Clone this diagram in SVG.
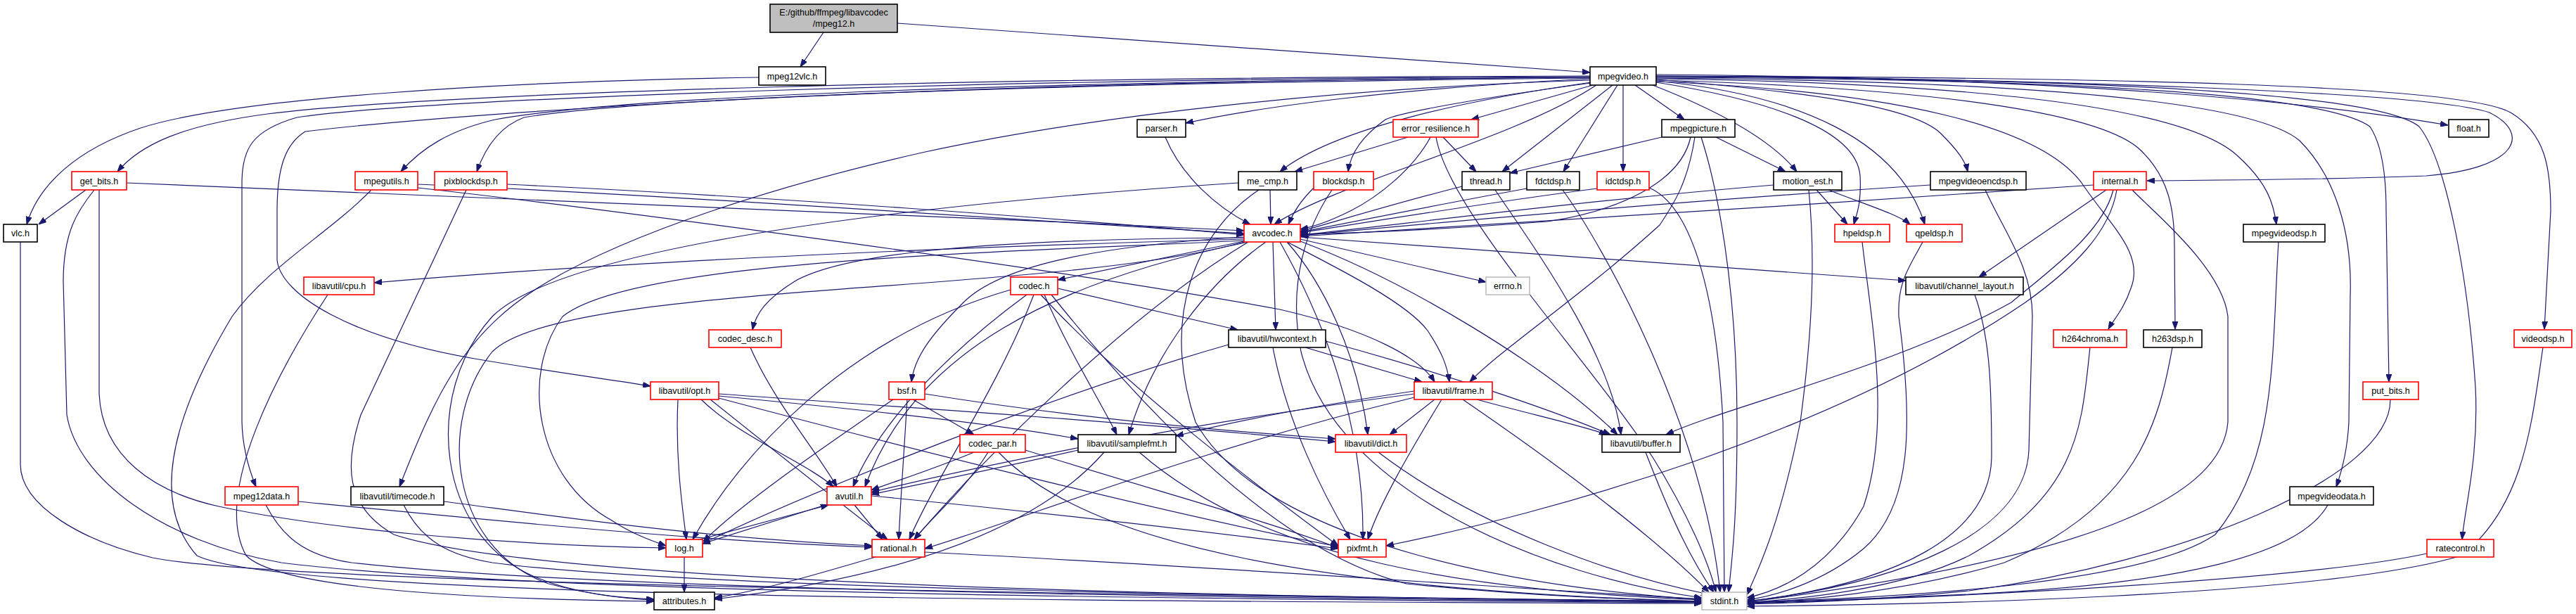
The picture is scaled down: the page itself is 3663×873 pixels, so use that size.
<svg xmlns="http://www.w3.org/2000/svg" width="3663" height="873" viewBox="0 0 3663 873">
<defs>
<marker id="a" markerWidth="11" markerHeight="8" refX="11" refY="4" orient="auto" markerUnits="userSpaceOnUse"><path d="M0,0 L11,4 L0,8 Z" fill="#191970" stroke="#191970" stroke-width="1"/></marker>
<style>
.node rect{fill:#fff;stroke:#000;stroke-width:1.6}
.node.r rect{stroke:#ff0000}
.node.g rect{stroke:#bfbfbf}
.node.m rect{fill:#bfbfbf}
.node text{font-family:"Liberation Sans",Arial,sans-serif;font-size:12.6px;fill:#000;text-anchor:middle}
#edges path{fill:none;stroke:#191970;stroke-width:1.2;marker-end:url(#a)}
</style>
</defs>
<rect width="3663" height="873" fill="#fff"/>
<g id="edges">
<path d="M1171,46 L1138,95"/>
<path d="M1276,33 L2261,103"/>
<path d="M1079,110 C700,116 330,140 200,182 C110,212 55,262 38,319"/>
<path d="M29,344 L29,660 C29,720 120,770 217,793 C400,830 1500,845 2420,855"/>
<path d="M2261,108 C1400,110 650,130 380,162 C260,178 200,205 167,244"/>
<path d="M2261,110 C1500,115 900,135 704,170 C640,185 600,210 570,244"/>
<path d="M2261,111 C1500,118 900,140 745,167 C710,180 690,210 678,244"/>
<path d="M2261,109 C1400,112 600,140 422,167 C360,185 344,210 344,260 L344,600 C345,640 355,670 364,692"/>
<path d="M2261,110 C1400,114 700,155 434,187 C405,205 394,240 394,300 L394,370 C400,420 500,480 675,510 C780,528 870,540 925,549"/>
<path d="M2261,114 C1900,125 1550,165 1311,217 C1100,265 900,330 780,400 C660,470 620,560 568,692"/>
<path d="M2261,112 C2000,125 1800,150 1686,175"/>
<path d="M2263,117 C2100,140 1900,180 1820,244"/>
<path d="M2270,121 C2150,200 1900,260 1812,319"/>
<path d="M2262,118 C2100,140 1990,160 1970,170 C1935,195 1920,220 1917,244"/>
<path d="M2265,121 L2092,170"/>
<path d="M2293,121 L2136,244"/>
<path d="M2300,121 L2223,244"/>
<path d="M2308,121 L2308,244"/>
<path d="M2325,121 L2395,170"/>
<path d="M2350,121 C2450,160 2520,200 2555,244"/>
<path d="M2355,117 C2500,140 2640,180 2645,250 C2647,290 2640,305 2636,319"/>
<path d="M2355,115 C2560,135 2700,200 2737,319"/>
<path d="M2355,113 C2560,130 2720,150 2760,190 C2785,215 2795,230 2798,244"/>
<path d="M2355,108 C2900,112 3450,130 3540,160 C3600,190 3580,240 3450,250 C3250,257 3120,256 3053,257"/>
<path d="M2355,106 C2800,110 3200,130 3481,178"/>
<path d="M2355,116 C2700,130 2900,180 2960,260 C3000,320 3050,360 3030,410 C3020,440 3005,455 2998,468"/>
<path d="M2355,114 C2750,125 2980,160 3040,210 C3085,250 3092,300 3092,350 L3093,468"/>
<path d="M2355,112 C2800,118 3100,150 3180,220 C3225,260 3233,290 3237,319"/>
<path d="M2355,111 C2850,115 3200,140 3270,200 C3320,250 3345,330 3342,420 L3340,600 C3338,640 3330,670 3322,692"/>
<path d="M2355,110 C2900,112 3300,130 3370,180 C3390,210 3393,260 3393,300 L3397,543"/>
<path d="M2355,109 C2950,111 3380,130 3440,180 C3480,230 3510,400 3520,550 C3525,650 3505,720 3501,767"/>
<path d="M2355,108 C3000,110 3500,120 3570,160 C3620,190 3627,240 3627,300 L3618,468"/>
<path d="M1657,195 C1680,250 1730,295 1778,319"/>
<path d="M122,270 L55,319"/>
<path d="M180,260 C600,278 1200,300 1769,328"/>
<path d="M134,270 C110,300 90,330 90,400 L95,590 C110,680 230,770 400,800 C800,850 2000,853 2420,857"/>
<path d="M141,270 L141,560 C145,650 220,700 311,720 C450,750 700,775 947,779"/>
<path d="M594,262 C1000,280 1400,310 1769,332"/>
<path d="M594,267 C800,290 1500,380 1820,440 C1950,470 2020,510 2040,543"/>
<path d="M528,270 C470,330 380,380 330,450 C270,550 200,700 280,790 C400,850 1500,855 2420,858"/>
<path d="M721,262 C1100,280 1500,310 1769,334"/>
<path d="M663,270 L513,590 C490,660 490,720 560,760 C800,840 2000,850 2420,856"/>
<path d="M424,713 C700,740 1000,770 1240,778"/>
<path d="M378,718 C400,760 430,790 500,800 C900,845 2000,852 2420,856"/>
<path d="M631,713 C800,735 1000,765 1240,776"/>
<path d="M574,718 C600,770 640,790 700,800 C1000,840 2000,850 2420,855"/>
<path d="M964,568 C960,650 970,720 976,767"/>
<path d="M997,568 C1050,620 1150,660 1185,692"/>
<path d="M1010,568 C1100,640 1200,720 1262,767"/>
<path d="M1022,560 C1300,580 1600,600 1899,628"/>
<path d="M1022,563 C1200,580 1400,600 1533,624"/>
<path d="M1022,566 C1300,640 1700,740 1903,777"/>
<path d="M1806,270 L1807,319"/>
<path d="M1761,260 C1300,290 800,350 700,450 C600,560 620,760 760,820 C820,845 880,850 930,852"/>
<path d="M1790,270 C1700,330 1650,450 1700,600 C1800,780 2200,840 2420,852"/>
<path d="M1870,265 C1850,285 1840,300 1832,319"/>
<path d="M1894,270 C1860,320 1830,400 1850,500 C1900,700 2200,820 2420,850"/>
<path d="M2002,195 L1841,244"/>
<path d="M2052,195 L2099,244"/>
<path d="M2034,195 C2010,240 1960,280 1920,300 C1890,315 1870,322 1849,326"/>
<path d="M2042,195 C2060,300 2250,500 2350,650 C2400,730 2430,800 2440,842"/>
<path d="M2079,265 C1980,290 1900,315 1849,329"/>
<path d="M2126,270 C2180,350 2290,500 2305,618"/>
<path d="M2171,268 C2050,290 1900,320 1849,330"/>
<path d="M2222,270 C2280,350 2420,600 2446,842"/>
<path d="M2271,268 C2100,290 1920,320 1849,331"/>
<path d="M2345,267 C2400,290 2440,400 2450,600 L2452,842"/>
<path d="M2363,195 L2147,246"/>
<path d="M2404,195 C2390,260 2300,300 2200,315 C2000,330 1900,332 1849,333"/>
<path d="M2410,195 C2400,260 2380,290 2360,320 C2250,420 2130,500 2090,543"/>
<path d="M2440,195 L2539,244"/>
<path d="M2419,195 C2440,260 2470,400 2470,600 C2470,750 2462,800 2458,842"/>
<path d="M2522,263 C2200,290 1950,325 1849,334"/>
<path d="M2583,270 L2627,319"/>
<path d="M2600,270 C2650,290 2700,305 2716,319"/>
<path d="M2572,270 C2580,350 2580,450 2560,600 C2530,750 2500,810 2484,846"/>
<path d="M2648,344 C2660,450 2690,600 2650,720 C2600,810 2530,840 2484,850"/>
<path d="M2734,344 C2715,380 2698,400 2700,450 C2720,600 2720,720 2650,780 C2590,830 2520,848 2484,853"/>
<path d="M2745,263 C2400,285 2000,320 1849,335"/>
<path d="M2823,270 C2850,330 2890,380 2890,450 L2885,640 C2880,760 2700,830 2484,855"/>
<path d="M2977,263 C2600,290 2100,320 1849,336"/>
<path d="M2995,270 L2814,394"/>
<path d="M3005,270 C2990,330 2920,380 2860,430 C2700,520 2450,580 2369,618"/>
<path d="M3010,270 C3000,330 2950,380 2880,430 C2600,620 2200,730 1971,776"/>
<path d="M3032,270 C3060,300 3160,380 3168,450 L3168,600 C3160,700 3000,790 2484,856"/>
<path d="M1849,340 L2113,401"/>
<path d="M1849,337 L2710,399"/>
<path d="M1769,340 C1400,350 900,370 532,402"/>
<path d="M1769,343 L1504,398"/>
<path d="M1769,338 C1400,340 1200,360 1130,400 C1090,425 1075,445 1070,469"/>
<path d="M1810,344 L1814,469"/>
<path d="M1769,337 C1550,350 1420,380 1370,430 C1320,480 1300,510 1296,543"/>
<path d="M1830,344 C1900,380 2000,430 2030,470 C2050,500 2058,520 2061,543"/>
<path d="M1800,344 C1720,400 1640,500 1605,618"/>
<path d="M1830,344 C1880,400 1930,500 1945,618"/>
<path d="M1849,343 C2000,400 2200,520 2300,618"/>
<path d="M1769,342 C1400,360 900,370 800,450 C740,530 760,680 870,740 C900,760 930,770 947,776"/>
<path d="M1820,344 C1880,450 1940,600 1938,767"/>
<path d="M1775,344 C1600,450 1400,650 1300,767"/>
<path d="M1775,344 C1500,400 1300,500 1230,692"/>
<path d="M1769,344 C1500,420 800,400 700,500 C620,600 640,780 780,830 C850,848 900,852 930,853"/>
<path d="M1504,410 L1760,469"/>
<path d="M1460,419 C1350,500 1250,600 1213,692"/>
<path d="M1437,412 C1200,480 1050,650 985,767"/>
<path d="M1480,419 C1600,550 1800,700 1903,776"/>
<path d="M1470,419 C1420,550 1330,680 1293,767"/>
<path d="M1485,419 C1520,500 1570,580 1588,618"/>
<path d="M1495,419 C1600,550 1800,780 2000,830 C2200,850 2350,853 2420,855"/>
<path d="M466,419 C400,520 300,700 350,790 C400,840 700,852 930,855"/>
<path d="M2808,419 C2830,480 2832,550 2832,650 C2830,760 2700,830 2484,855"/>
<path d="M1067,494 C1100,570 1160,640 1190,692"/>
<path d="M1885,485 C2050,530 2200,580 2290,618"/>
<path d="M1856,494 L2022,543"/>
<path d="M1747,490 C1500,560 1150,700 999,773"/>
<path d="M1810,494 C1830,600 1880,700 1920,767"/>
<path d="M2972,494 C2960,600 2960,700 2800,790 C2700,840 2550,852 2484,857"/>
<path d="M3089,494 C3070,600 3040,720 2850,800 C2700,845 2550,854 2484,858"/>
<path d="M3616,494 C3600,600 3590,720 3500,790 C3300,850 2700,860 2484,862"/>
<path d="M1298,568 L1385,618"/>
<path d="M1315,560 C1500,590 1700,610 1899,624"/>
<path d="M1270,568 C1150,650 1050,720 1000,770"/>
<path d="M1290,568 C1285,650 1280,720 1278,767"/>
<path d="M2011,560 C1700,600 1400,660 1239,700"/>
<path d="M2100,568 C2180,590 2250,605 2285,618"/>
<path d="M2040,568 L1976,618"/>
<path d="M2011,565 C1700,640 1450,740 1315,780"/>
<path d="M2011,556 C1850,580 1750,600 1672,620"/>
<path d="M2050,568 C2000,650 1960,720 1945,767"/>
<path d="M2080,568 C2200,650 2350,760 2430,842"/>
<path d="M3399,568 C3400,680 3100,800 2800,840 C2650,855 2550,857 2484,859"/>
<path d="M1385,643 C1320,670 1270,685 1239,697"/>
<path d="M1405,643 C1370,700 1320,740 1300,767"/>
<path d="M1458,640 C1650,700 1800,740 1903,779"/>
<path d="M1420,643 C1550,780 1900,840 2420,855"/>
<path d="M1533,640 C1400,670 1300,690 1239,703"/>
<path d="M1570,643 C1450,780 1200,830 1016,852"/>
<path d="M1620,643 C1800,800 2100,840 2420,853"/>
<path d="M1960,643 C2100,750 2300,820 2430,845"/>
<path d="M2340,643 C2370,720 2400,790 2437,842"/>
<path d="M3310,718 C3270,790 3100,830 2800,845 C2650,852 2550,855 2484,857"/>
<path d="M3451,787 C3300,820 2900,845 2484,858"/>
<path d="M3240,344 C3230,500 3240,650 3150,760 C3050,830 2700,850 2484,856"/>
<path d="M1215,718 L1255,767"/>
<path d="M1180,716 L999,773"/>
<path d="M1239,705 C1500,730 1750,760 1903,780"/>
<path d="M995,767 L1178,718"/>
<path d="M973,792 L973,842"/>
<path d="M1245,792 C1150,820 1080,840 1016,850"/>
<path d="M1315,785 C1800,810 2200,840 2420,852"/>
</g>
<g id="n_main" class="node m"><rect x="1095" y="6" width="181" height="40"/><text x="1185.5" y="21.5">E:/github/ffmpeg/libavcodec</text><text x="1185.5" y="37.5">/mpeg12.h</text></g>
<g id="n_mpeg12vlc" class="node"><rect x="1079" y="95" width="95" height="26"/><text x="1126.5" y="112.5">mpeg12vlc.h</text></g>
<g id="n_mpegvideo" class="node"><rect x="2261" y="95" width="94" height="26"/><text x="2308" y="112.5">mpegvideo.h</text></g>
<g id="n_parser" class="node"><rect x="1617" y="170" width="69" height="25"/><text x="1651.5" y="187">parser.h</text></g>
<g id="n_error_resilience" class="node r"><rect x="1981" y="170" width="121" height="25"/><text x="2041.5" y="187">error_resilience.h</text></g>
<g id="n_mpegpicture" class="node"><rect x="2363" y="170" width="104" height="25"/><text x="2415" y="187">mpegpicture.h</text></g>
<g id="n_float" class="node"><rect x="3482" y="170" width="57" height="25"/><text x="3510.5" y="187">float.h</text></g>
<g id="n_get_bits" class="node r"><rect x="102" y="244" width="78" height="26"/><text x="141" y="261.5">get_bits.h</text></g>
<g id="n_mpegutils" class="node r"><rect x="505" y="244" width="89" height="26"/><text x="549.5" y="261.5">mpegutils.h</text></g>
<g id="n_pixblockdsp" class="node r"><rect x="618" y="244" width="103" height="26"/><text x="669.5" y="261.5">pixblockdsp.h</text></g>
<g id="n_me_cmp" class="node"><rect x="1761" y="244" width="83" height="26"/><text x="1802.5" y="261.5">me_cmp.h</text></g>
<g id="n_blockdsp" class="node r"><rect x="1868" y="244" width="85" height="26"/><text x="1910.5" y="261.5">blockdsp.h</text></g>
<g id="n_thread" class="node"><rect x="2079" y="244" width="68" height="26"/><text x="2113" y="261.5">thread.h</text></g>
<g id="n_fdctdsp" class="node"><rect x="2171" y="244" width="75" height="26"/><text x="2208.5" y="261.5">fdctdsp.h</text></g>
<g id="n_idctdsp" class="node r"><rect x="2271" y="244" width="74" height="26"/><text x="2308" y="261.5">idctdsp.h</text></g>
<g id="n_motion_est" class="node"><rect x="2522" y="244" width="97" height="26"/><text x="2570.5" y="261.5">motion_est.h</text></g>
<g id="n_mpegvideoencdsp" class="node"><rect x="2745" y="244" width="136" height="26"/><text x="2813" y="261.5">mpegvideoencdsp.h</text></g>
<g id="n_internal" class="node r"><rect x="2977" y="244" width="75" height="26"/><text x="3014.5" y="261.5">internal.h</text></g>
<g id="n_vlc" class="node"><rect x="5" y="319" width="48" height="25"/><text x="29" y="336">vlc.h</text></g>
<g id="n_avcodec" class="node r"><rect x="1769" y="319" width="80" height="25"/><text x="1809" y="336">avcodec.h</text></g>
<g id="n_hpeldsp" class="node r"><rect x="2609" y="319" width="78" height="25"/><text x="2648" y="336">hpeldsp.h</text></g>
<g id="n_qpeldsp" class="node r"><rect x="2711" y="319" width="79" height="25"/><text x="2750.5" y="336">qpeldsp.h</text></g>
<g id="n_mpegvideodsp" class="node"><rect x="3190" y="319" width="116" height="25"/><text x="3248" y="336">mpegvideodsp.h</text></g>
<g id="n_cpu" class="node r"><rect x="432" y="394" width="100" height="25"/><text x="482" y="411">libavutil/cpu.h</text></g>
<g id="n_codec" class="node r"><rect x="1437" y="394" width="67" height="25"/><text x="1470.5" y="411">codec.h</text></g>
<g id="n_errno" class="node g"><rect x="2113" y="394" width="62" height="25"/><text x="2144" y="411">errno.h</text></g>
<g id="n_channel_layout" class="node"><rect x="2710" y="394" width="167" height="25"/><text x="2793.5" y="411">libavutil/channel_layout.h</text></g>
<g id="n_codec_desc" class="node r"><rect x="1008" y="469" width="103" height="25"/><text x="1059.5" y="486">codec_desc.h</text></g>
<g id="n_hwcontext" class="node"><rect x="1747" y="469" width="138" height="25"/><text x="1816" y="486">libavutil/hwcontext.h</text></g>
<g id="n_h264chroma" class="node r"><rect x="2920" y="469" width="104" height="25"/><text x="2972" y="486">h264chroma.h</text></g>
<g id="n_h263dsp" class="node"><rect x="3048" y="469" width="83" height="25"/><text x="3089.5" y="486">h263dsp.h</text></g>
<g id="n_videodsp" class="node r"><rect x="3575" y="469" width="82" height="25"/><text x="3616" y="486">videodsp.h</text></g>
<g id="n_opt" class="node r"><rect x="925" y="543" width="97" height="25"/><text x="973.5" y="560">libavutil/opt.h</text></g>
<g id="n_bsf" class="node r"><rect x="1264" y="543" width="51" height="25"/><text x="1289.5" y="560">bsf.h</text></g>
<g id="n_frame" class="node r"><rect x="2011" y="543" width="111" height="25"/><text x="2066.5" y="560">libavutil/frame.h</text></g>
<g id="n_put_bits" class="node r"><rect x="3360" y="543" width="79" height="25"/><text x="3399.5" y="560">put_bits.h</text></g>
<g id="n_codec_par" class="node r"><rect x="1365" y="618" width="93" height="25"/><text x="1411.5" y="635">codec_par.h</text></g>
<g id="n_samplefmt" class="node"><rect x="1533" y="618" width="139" height="25"/><text x="1602.5" y="635">libavutil/samplefmt.h</text></g>
<g id="n_dict" class="node r"><rect x="1899" y="618" width="101" height="25"/><text x="1949.5" y="635">libavutil/dict.h</text></g>
<g id="n_buffer" class="node"><rect x="2278" y="618" width="111" height="25"/><text x="2333.5" y="635">libavutil/buffer.h</text></g>
<g id="n_mpeg12data" class="node r"><rect x="320" y="692" width="104" height="26"/><text x="372" y="709.5">mpeg12data.h</text></g>
<g id="n_timecode" class="node"><rect x="499" y="692" width="132" height="26"/><text x="565" y="709.5">libavutil/timecode.h</text></g>
<g id="n_avutil" class="node r"><rect x="1176" y="692" width="63" height="26"/><text x="1207.5" y="709.5">avutil.h</text></g>
<g id="n_mpegvideodata" class="node"><rect x="3256" y="692" width="119" height="26"/><text x="3315.5" y="709.5">mpegvideodata.h</text></g>
<g id="n_log" class="node r"><rect x="947" y="767" width="52" height="25"/><text x="973" y="784">log.h</text></g>
<g id="n_rational" class="node r"><rect x="1240" y="767" width="75" height="25"/><text x="1277.5" y="784">rational.h</text></g>
<g id="n_pixfmt" class="node r"><rect x="1903" y="767" width="68" height="25"/><text x="1937" y="784">pixfmt.h</text></g>
<g id="n_ratecontrol" class="node r"><rect x="3451" y="767" width="95" height="25"/><text x="3498.5" y="784">ratecontrol.h</text></g>
<g id="n_attributes" class="node"><rect x="930" y="842" width="86" height="25"/><text x="973" y="859">attributes.h</text></g>
<g id="n_stdint" class="node g"><rect x="2420" y="842" width="64" height="25"/><text x="2452" y="859">stdint.h</text></g>
</svg>
